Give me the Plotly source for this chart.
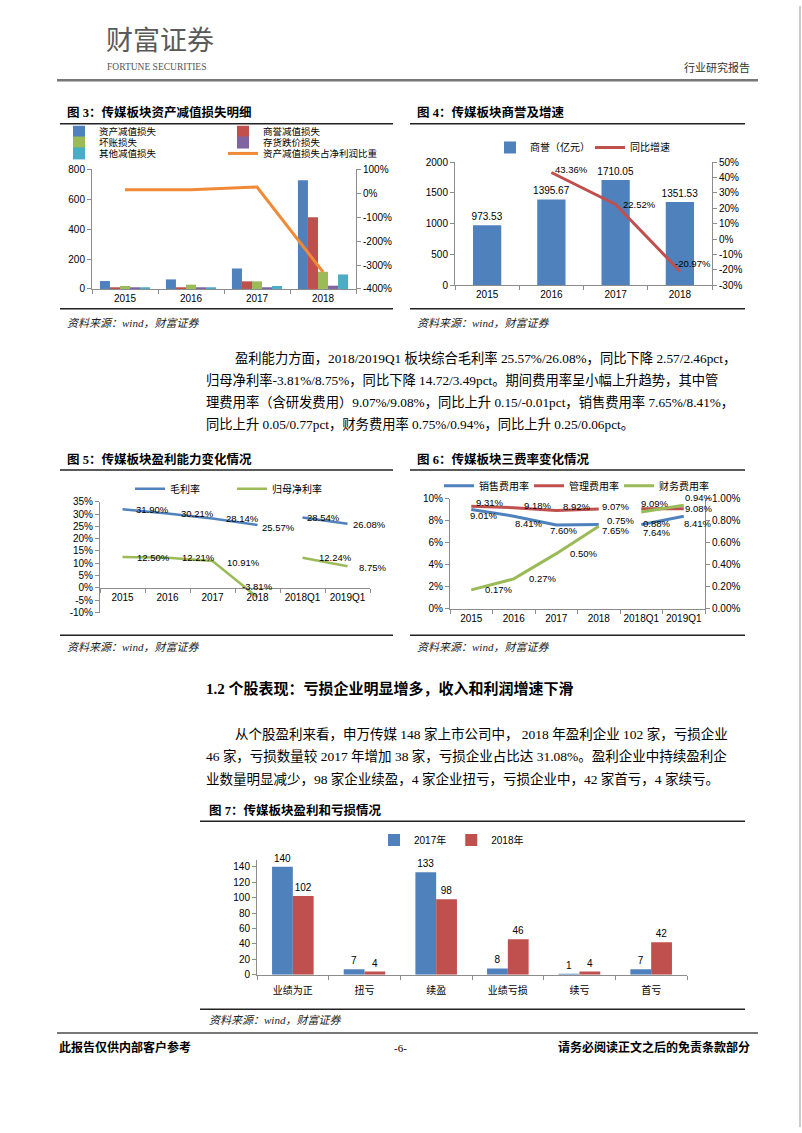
import plotly.graph_objects as go

# ---------------- data ----------------
years = ["2015", "2016", "2017", "2018"]
quarters = ["2018Q1", "2019Q1"]
periods = years + quarters

# Fig 3: asset impairment details (亿元) and ratio to net profit (%)
impair_total = [53, 64, 137, 727]
goodwill_imp = [6, 9, 51, 480]
bad_debt = [20, 29, 51, 115]
inventory_imp = [5, 8, 9, 22]
other_imp = [11, 9, 20, 97]
impair_ratio = [14, 14, 26, -329]

# Fig 4: goodwill and growth
goodwill = [973.53, 1395.67, 1710.05, 1351.53]
growth_years = ["2016", "2017", "2018"]
goodwill_growth = [43.36, 22.52, -20.97]

# Fig 5: profitability (%)
gross_y = [31.90, 30.21, 28.14, 25.57]
gross_q = [28.54, 26.08]
net_y = [12.50, 12.21, 10.91, -3.81]
net_q = [12.24, 8.75]

# Fig 6: expense ratios (%)
sell_y = [9.01, 8.41, 7.60, 7.65]
sell_q = [7.64, 8.41]
admin_y = [9.31, 9.18, 8.92, 9.07]
admin_q = [9.09, 9.08]
fin_y = [0.17, 0.27, 0.50, 0.75]
fin_q = [0.88, 0.94]

# Fig 7: profit / loss company counts
c7_cats = ["业绩为正", "扭亏", "续盈", "业绩亏损", "续亏", "首亏"]
c7_2017 = [140, 7, 133, 8, 1, 7]
c7_2018 = [102, 4, 98, 46, 4, 42]

# ---------------- helpers ----------------
W, H = 802, 1133
def px(x): return x / W
def py(y): return 1 - y / H

SANS = "Liberation Sans, Arial, Noto Sans CJK SC, sans-serif"
SERIF = "Liberation Serif, Times New Roman, Noto Sans CJK SC, serif"
AX = "#8C8C8C"
BLUE, RED, GREEN, PURPLE, CYAN, ORANGE = "#4F81BD", "#C0504D", "#9BBB59", "#8064A2", "#4BACC6", "#F08A36"
TF = dict(family=SANS, size=10, color="#000")

def pct_ticks(vals, fmt="{:.0f}%"):
    return dict(tickvals=vals, ticktext=[fmt.format(v) for v in vals])

fig = go.Figure()

# ---------------- Fig 3 ----------------
c3 = [("资产减值损失", impair_total, BLUE, "legend"),
      ("商誉减值损失", goodwill_imp, RED, "legend"),
      ("坏账损失", bad_debt, GREEN, "legend2"),
      ("存货跌价损失", inventory_imp, PURPLE, "legend2"),
      ("其他减值损失", other_imp, CYAN, "legend3")]
bw3 = 0.152
for i, (name, vals, col, lg) in enumerate(c3):
    fig.add_trace(go.Bar(x=years, y=vals, name=name, marker=dict(color=col, line_width=0),
                         width=bw3, offset=-2.5 * bw3 + i * bw3, xaxis="x", yaxis="y", legend=lg))
fig.add_trace(go.Scatter(x=years, y=impair_ratio, name="资产减值损失占净利润比重", mode="lines",
                         line=dict(color=ORANGE, width=3), xaxis="x", yaxis="y2", legend="legend3"))

# ---------------- Fig 4 ----------------
fig.add_trace(go.Bar(x=years, y=goodwill, name="商誉（亿元）", marker=dict(color=BLUE, line_width=0),
                     width=0.44, offset=-0.22, text=[f"{v:.2f}" for v in goodwill], textposition="outside",
                     constraintext="none", cliponaxis=False,
                     textfont=dict(family=SANS, size=10, color="#000"),
                     xaxis="x2", yaxis="y3", legend="legend4"))
fig.add_trace(go.Scatter(x=growth_years, y=goodwill_growth, name="同比增速", mode="lines",
                         line=dict(color=RED, width=3), xaxis="x2", yaxis="y4", legend="legend4"))

# ---------------- Fig 5 ----------------
fig.add_trace(go.Scatter(x=years, y=gross_y, name="毛利率", mode="lines", line=dict(color=BLUE, width=2.5),
                         xaxis="x3", yaxis="y5", legend="legend5"))
fig.add_trace(go.Scatter(x=years, y=net_y, name="归母净利率", mode="lines", line=dict(color=GREEN, width=2.5),
                         xaxis="x3", yaxis="y5", legend="legend5"))
fig.add_trace(go.Scatter(x=quarters, y=gross_q, name="毛利率", mode="lines", line=dict(color=BLUE, width=2.5),
                         xaxis="x3", yaxis="y5", showlegend=False, legend="legend5"))
fig.add_trace(go.Scatter(x=quarters, y=net_q, name="归母净利率", mode="lines", line=dict(color=GREEN, width=2.5),
                         xaxis="x3", yaxis="y5", showlegend=False, legend="legend5"))

# ---------------- Fig 6 ----------------
fig.add_trace(go.Scatter(x=years, y=sell_y, name="销售费用率", mode="lines", line=dict(color=BLUE, width=3),
                         xaxis="x4", yaxis="y6", legend="legend6"))
fig.add_trace(go.Scatter(x=years, y=admin_y, name="管理费用率", mode="lines", line=dict(color=RED, width=3),
                         xaxis="x4", yaxis="y6", legend="legend6"))
fig.add_trace(go.Scatter(x=years, y=fin_y, name="财务费用率", mode="lines", line=dict(color=GREEN, width=3),
                         xaxis="x4", yaxis="y7", legend="legend6"))
fig.add_trace(go.Scatter(x=quarters, y=sell_q, name="销售费用率", mode="lines", line=dict(color=BLUE, width=3),
                         xaxis="x4", yaxis="y6", showlegend=False, legend="legend6"))
fig.add_trace(go.Scatter(x=quarters, y=admin_q, name="管理费用率", mode="lines", line=dict(color=RED, width=3),
                         xaxis="x4", yaxis="y6", showlegend=False, legend="legend6"))
fig.add_trace(go.Scatter(x=quarters, y=fin_q, name="财务费用率", mode="lines", line=dict(color=GREEN, width=3),
                         xaxis="x4", yaxis="y7", showlegend=False, legend="legend6"))

# ---------------- Fig 7 ----------------
for name, vals, col, off in [("2017年", c7_2017, BLUE, -0.29), ("2018年", c7_2018, RED, 0.0)]:
    fig.add_trace(go.Bar(x=c7_cats, y=vals, name=name, marker=dict(color=col, line_width=0),
                         width=0.29, offset=off, text=[str(v) for v in vals], textposition="outside",
                         constraintext="none", cliponaxis=False,
                         textfont=dict(family=SANS, size=10, color="#000"),
                         xaxis="x5", yaxis="y8", legend="legend7"))

# ---------------- axes ----------------
def ax(**kw):
    d = dict(showline=True, linecolor=AX, linewidth=1, ticks="outside", ticklen=4, tickcolor=AX,
             showgrid=False, zeroline=False, tickfont=TF, fixedrange=True)
    d.update(kw)
    return d

def cat_ax(cats, **kw):
    return ax(type="category", categoryorder="array", categoryarray=cats, tickson="boundaries",
              range=[-0.5, len(cats) - 0.5], tickangle=0, **kw)

layout = dict(
    width=W, height=H, autosize=False, margin=dict(l=0, r=0, t=0, b=0),
    paper_bgcolor="white", plot_bgcolor="rgba(0,0,0,0)", barmode="overlay",
    font=dict(family=SANS, size=10, color="#000"),
    # fig 3
    xaxis=cat_ax(years, domain=[px(92), px(356)], anchor="y"),
    yaxis=ax(domain=[py(286), py(165)], anchor="x", range=[0, 800], dtick=200),
    yaxis2=ax(overlaying="y", side="right", anchor="x", range=[-400, 100],
              **pct_ticks([-400, -300, -200, -100, 0, 100])),
    # fig 4
    xaxis2=cat_ax(years, domain=[px(455), px(712)], anchor="y3"),
    yaxis3=ax(domain=[py(282), py(158)], anchor="x2", range=[0, 2000], dtick=500),
    yaxis4=ax(overlaying="y3", side="right", anchor="x2", range=[-30, 50],
              **pct_ticks(list(range(-30, 51, 10)))),
    # fig 5
    xaxis3=cat_ax(periods, domain=[px(100), px(370)], anchor="free", position=py(588)),
    yaxis5=ax(domain=[py(613), py(501)], anchor="x3", range=[-10, 35],
              **pct_ticks(list(range(-10, 36, 5)))),
    # fig 6
    xaxis4=cat_ax(periods, domain=[px(450), px(705)], anchor="y6"),
    yaxis6=ax(domain=[py(609), py(498)], anchor="x4", range=[0, 10],
              **pct_ticks([0, 2, 4, 6, 8, 10])),
    yaxis7=ax(overlaying="y6", side="right", anchor="x4", range=[0, 1],
              **pct_ticks([0, 0.2, 0.4, 0.6, 0.8, 1.0], "{:.2f}%")),
    # fig 7
    xaxis5=cat_ax(c7_cats, domain=[px(257), px(687)], anchor="y8", ticklabelstandoff=6),
    yaxis8=ax(domain=[py(979), py(863)], anchor="x5", range=[0, 149], tickvals=list(range(0, 141, 20))),
)

def lg(x, y, entrywidth=0, itemwidth=30, size=10):
    d = dict(orientation="h", x=px(x), y=py(y), xanchor="left", yanchor="middle", traceorder="normal",
             bgcolor="rgba(0,0,0,0)", borderwidth=0, font=dict(family=SANS, size=size, color="#000"),
             itemwidth=itemwidth, tracegroupgap=0, itemclick=False, itemdoubleclick=False)
    if entrywidth:
        d["entrywidth"] = entrywidth
        d["entrywidthmode"] = "pixels"
    return d

layout["legend"] = lg(59, 127, 119, size=9.5)
layout["legend2"] = lg(59, 138, 119, size=9.5)
layout["legend3"] = lg(59, 149, 119, size=9.5)
layout["legend4"] = lg(490, 143, 55)
layout["legend5"] = lg(130, 488, 57)
layout["legend6"] = lg(439, 485, 45)
layout["legend7"] = lg(374, 843)

fig.update_layout(**layout)

# ---------------- annotations ----------------
ann = []
def text(x, y, s, size=13.5, family=SERIF, color="#000", xanchor="left", bold=False, italic=False):
    if bold:
        s = f"<b>{s}</b>"
    if italic:
        s = f"<i>{s}</i>"
    ann.append(dict(xref="paper", yref="paper", x=px(x), y=py(y), text=s, showarrow=False,
                    xanchor=xanchor, yanchor="middle", font=dict(family=family, size=size, color=color)))

def dlabel(xa, ya, xi, y, s, dx, dy, xanchor="left"):
    # xi is the category index on the category axis
    ann.append(dict(xref=xa, yref=ya, x=xi, y=y, text=s, showarrow=False, xanchor=xanchor,
                    yanchor="middle", xshift=dx, yshift=dy,
                    font=dict(family=SANS, size=9.5, color="#000")))

# header
text(104, 33, "财富证券", size=27, family="Noto Sans CJK SC", color="#5a5a5a")
text(105, 62, "FORTUNE SECURITIES", size=9.5, family=SERIF, color="#555")
text(752, 62, "行业研究报告", size=11, family=SERIF, color="#333", xanchor="right")

# figure titles and sources
for x, y, s in [(65, 108, "图 3：传媒板块资产减值损失明细"), (415, 108, "图 4：传媒板块商誉及增速"),
                (65, 458, "图 5：传媒板块盈利能力变化情况"), (415, 458, "图 6：传媒板块三费率变化情况"),
                (207, 813, "图 7：传媒板块盈利和亏损情况")]:
    text(x, y, s, size=12.5, family=SERIF, bold=True)
for x, y in [(65, 320), (415, 320), (65, 648), (415, 648), (207, 1025)]:
    text(x, y, "资料来源：wind，财富证券", size=11, family=SERIF, color="#222", italic=True)

# paragraph 1
p1 = ["盈利能力方面，2018/2019Q1 板块综合毛利率 25.57%/26.08%，同比下降 2.57/2.46pct，",
      "归母净利率-3.81%/8.75%，同比下降 14.72/3.49pct。期间费用率呈小幅上升趋势，其中管",
      "理费用率（含研发费用）9.07%/9.08%，同比上升 0.15/-0.01pct，销售费用率 7.65%/8.41%，",
      "同比上升 0.05/0.77pct，财务费用率 0.75%/0.94%，同比上升 0.25/0.06pct。"]
for i, s in enumerate(p1):
    text(233 if i == 0 else 204, 356 + 22 * i, s, size=13.3)

text(204, 690, "1.2 个股表现：亏损企业明显增多，收入和利润增速下滑", size=15, family=SERIF, bold=True)

p2 = ["从个股盈利来看，申万传媒 148 家上市公司中， 2018 年盈利企业 102 家，亏损企业",
      "46 家，亏损数量较 2017 年增加 38 家，亏损企业占比达 31.08%。盈利企业中持续盈利企",
      "业数量明显减少，98 家企业续盈，4 家企业扭亏，亏损企业中，42 家首亏，4 家续亏。"]
for i, s in enumerate(p2):
    text(233 if i == 0 else 204, 736 + 22.5 * i, s)

# footer
text(57, 1053, "此报告仅供内部客户参考", size=12, family=SERIF, bold=True)
text(400, 1053, "-6-", size=11, family=SERIF, xanchor="center")
text(752, 1053, "请务必阅读正文之后的免责条款部分", size=12, family=SERIF, bold=True, xanchor="right")

# data labels fig 4 line
for x, v, (dx, dy) in zip(growth_years, goodwill_growth, [(2, 3), (5, 0), (-7, 8)]):
    dlabel("x2", "y4", years.index(x), v, f"{v:.2f}%", dx, dy)

# data labels fig 5
for xs, vals, offs in [(years, gross_y, [(11, 0), (11, 0), (11, 0), (2, -3)]),
                       (quarters, gross_q, [(2, 0), (3, -1)]),
                       (years, net_y, [(12, 0), (12, 0), (12, -1), None]),
                       (quarters, net_q, [(14, 0), (9, -1)])]:
    for x, v, o in zip(xs, vals, offs):
        xi = periods.index(x)
        if o is None:
            dlabel("x3", "y5", xi, v, f"{v:.2f}%", 0, 11, xanchor="center")
        else:
            dlabel("x3", "y5", xi, v, f"{v:.2f}%", o[0], o[1])

# data labels fig 6
for xs, vals, ya, offs in [(years, sell_y, "y6", [(-3, -6), (-1, -7), (-8, -5), (1, -6)]),
                           (quarters, sell_q, "y6", [(0, -8), (-2, -7)]),
                           (years, admin_y, "y6", [(3, 4), (8, 2), (5, 4), (1, 2)]),
                           (quarters, admin_q, "y6", [(-2, 5), (-1, 0)]),
                           (years, fin_y, "y7", [(12, 0), (13, 0), (12, 0), (6, 6)]),
                           (quarters, fin_q, "y7", [(0, -12), (-1, 8)])]:
    for x, v, o in zip(xs, vals, offs):
        dlabel("x4", ya, periods.index(x), v, f"{v:.2f}%", o[0], o[1])

fig.update_layout(annotations=ann)

# ---------------- rules / shapes ----------------
shapes = []
def hline(x0, x1, y, color="#222", width=1.5):
    shapes.append(dict(type="line", xref="paper", yref="paper", x0=px(x0), x1=px(x1), y0=py(y), y1=py(y),
                       line=dict(color=color, width=width)))

hline(57, 758, 75, color="#777", width=2.5)
for (x0, x1), ys in [((60, 393), (119, 306)), ((410, 745), (119, 306)),
                     ((60, 393), (469, 636)), ((410, 745), (469, 636)), ((200, 745), (824, 1014))]:
    for y in ys:
        hline(x0, x1, y)
hline(57, 758, 1038, color="#777", width=2)
shapes.append(dict(type="line", xref="paper", yref="paper", x0=px(800), x1=px(800), y0=0, y1=1,
                   line=dict(color="#999", width=1)))
fig.update_layout(shapes=shapes)

fig.write_html("out.html")
